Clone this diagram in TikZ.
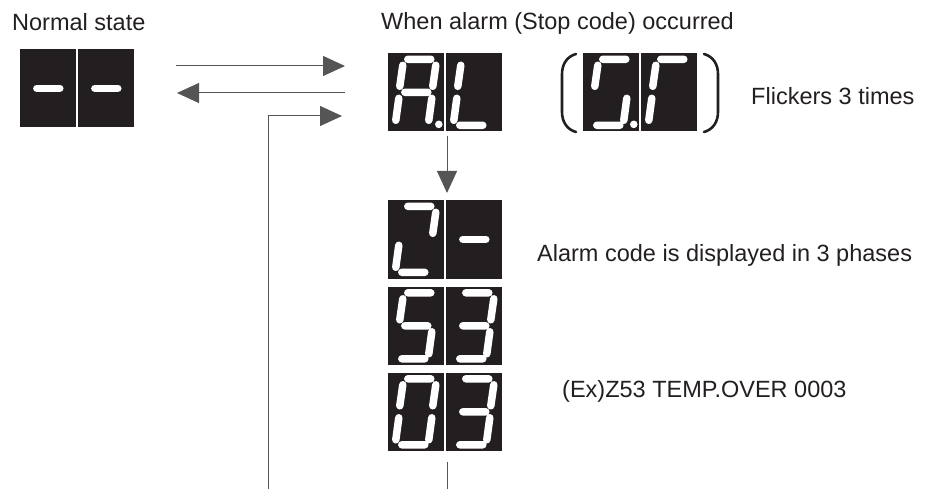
\documentclass[tikz,border=0pt]{standalone}
\usepackage{fontspec}
\setmainfont{Liberation Sans}
\usetikzlibrary{arrows.meta}
\definecolor{panel}{HTML}{231F20}
\definecolor{ink}{HTML}{231F20}
\definecolor{wire}{HTML}{555555}

% seven-segment cells and their segments (local coordinates, origin at the cell's north west)
\tikzset{
  cell/.style={fill=panel, minimum width=56pt, minimum height=78pt, inner sep=0pt},
  seg/.style={draw=white, line width=7.5pt, line cap=round},
  segA/.style={insert path={(20,6) -- (43,6)}},
  segB/.style={insert path={(48,12) -- (45,33)}},
  segC/.style={insert path={(44,45) -- (41,67)}},
  segD/.style={insert path={(14,72) -- (37,72)}},
  segE/.style={insert path={(11,45) -- (8,67)}},
  segF/.style={insert path={(15,12) -- (12,33)}},
  segG/.style={insert path={(17,39) -- (40,39)}},
  segP/.style={insert path={(51,71) -- (51,71.1)}},
  arr/.style={-{Triangle[length=22pt,width=20pt]}, line width=1pt, draw=wire},
  paren/.style={line width=2.6pt, draw=ink, line cap=round}
}

\begin{document}
\begin{tikzpicture}[x=1pt, y=-1pt,
  every node/.style={font=\fontsize{23.5}{28}\selectfont, text=ink, inner sep=0pt}]
  \useasboundingbox (0,0) rectangle (926,489);

  % normal state
  \node[anchor=base west] (ttlnormal) at (12,31) {Normal state};
  \node[cell] (n1) at (48,88.5) {};
  \node[cell] (n2) at (106,88.5) {};
  \draw[seg, shift={(n1.north west)}, segG];
  \draw[seg, shift={(n2.north west)}, segG];

  % alarm
  \node[anchor=base west] (ttlalarm) at (381,30) {When alarm (Stop code) occurred};
  \node[cell] (al1) at (416,92.5) {};
  \node[cell] (al2) at (474,92.5) {};
  \draw[seg, shift={(al1.north west)}, segA, segB, segC, segE, segF, segG, segP];
  \draw[seg, shift={(al2.north west)}, segF, segE, segD];

  \node[cell] (fl1) at (611,92.5) {};
  \node[cell] (fl2) at (669,92.5) {};
  \draw[seg, shift={(fl1.north west)}, segA, segF, segC, segD, segP];
  \draw[seg, shift={(fl2.north west)}, segA, segF, segE];
  \draw[paren] (576,54) to[out=195,in=90] (562,74) -- (562,112) to[out=-90,in=165] (576,132);
  \draw[paren] (704,54) to[out=-15,in=90] (718,74) -- (718,112) to[out=-90,in=15] (704,132);
  \node[anchor=base west] (flick) at (751,105) {Flickers 3 times};

  % alarm code, 3 phases
  \node[cell] (p1a) at (416,239.5) {};
  \node[cell] (p1b) at (474,239.5) {};
  \node[cell] (p2a) at (416,326) {};
  \node[cell] (p2b) at (474,326) {};
  \node[cell] (p3a) at (416,412) {};
  \node[cell] (p3b) at (474,412) {};
  \draw[seg, shift={(p1a.north west)}, segA, segB, segE, segD];
  \draw[seg, shift={(p1b.north west)}, segG];
  \draw[seg, shift={(p2a.north west)}, segA, segF, segG, segC, segD];
  \draw[seg, shift={(p2b.north west)}, segA, segB, segG, segC, segD];
  \draw[seg, shift={(p3a.north west)}, segA, segB, segC, segD, segE, segF];
  \draw[seg, shift={(p3b.north west)}, segA, segB, segG, segC, segD];
  \node[anchor=base west] (phases) at (537,261) {Alarm code is displayed in 3 phases};
  \node[anchor=base west] (example) at (562,397) {(Ex)Z53 TEMP.OVER 0003};

  % connectors
  \coordinate (goL) at (176,66);
  \coordinate (goR) at (345,66);
  \coordinate (backR) at (345,93);
  \coordinate (backL) at (177,93);
  \coordinate (loopB) at (268,489);
  \coordinate (loopR) at (342,116);
  \coordinate (downT) at (447,136);
  \coordinate (downB) at (447,193);
  \coordinate (tailT) at (447,462);
  \coordinate (tailB) at (447,489);
  \draw[arr] (goL) -- (goR);
  \draw[arr] (backR) -- (backL);
  \draw[arr] (loopB) |- (loopR);
  \draw[arr] (downT) -- (downB);
  \draw[line width=1pt, draw=wire] (tailT) -- (tailB);
\end{tikzpicture}
\end{document}
